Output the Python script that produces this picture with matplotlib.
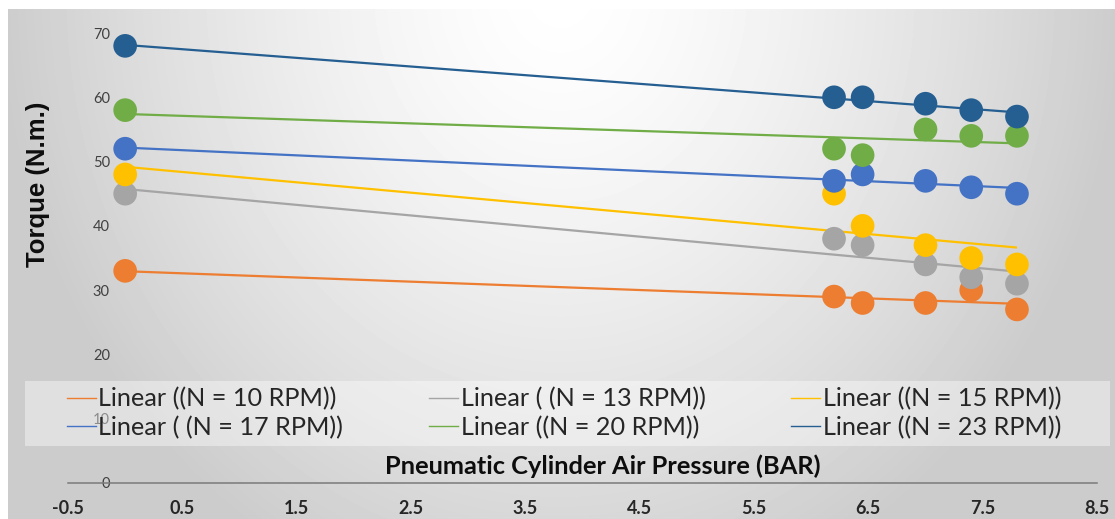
import numpy as np
import matplotlib
matplotlib.use("Agg")
import matplotlib.pyplot as plt
from matplotlib.patches import Rectangle
from matplotlib.lines import Line2D

# ---------------- data ----------------
pressure = [0, 6.2, 6.45, 7.0, 7.4, 7.8]
torque_10 = [33, 29, 28, 28, 30, 27]
torque_13 = [45, 38, 37, 34, 32, 31]
torque_15 = [48, 45, 40, 37, 35, 34]
torque_17 = [52, 47, 48, 47, 46, 45]
torque_20 = [58, 52, 51, 55, 54, 54]
torque_23 = [68, 60, 60, 59, 58, 57]
series_labels = ["Linear ((N = 10 RPM))", "Linear ( (N = 13 RPM))",
                 "Linear ((N = 15 RPM))", "Linear ( (N = 17 RPM))",
                 "Linear ((N = 20 RPM))", "Linear ((N = 23 RPM))"]
x_ticks = [-0.5, 0.5, 1.5, 2.5, 3.5, 4.5, 5.5, 6.5, 7.5, 8.5]
x_ticklabels = ["-0.5", "0.5", "1.5", "2.5", "3.5", "4.5", "5.5", "6.5", "7.5", "8.5"]
y_ticks = [0, 10, 20, 30, 40, 50, 60, 70]
x_title = "Pneumatic Cylinder Air Pressure (BAR)"
y_title = "Torque (N.m.)"

series = [torque_10, torque_13, torque_15, torque_17, torque_20, torque_23]
colors = ["#ED7D31", "#A5A5A5", "#FFC000", "#4472C4", "#70AD47", "#255E91"]

W, H = 1115, 519
fig = plt.figure(figsize=(W / 100, H / 100), dpi=100)
fig.patch.set_facecolor("white")

# background gradient (chart area)
bw, bh = 1107, 510
xx, yy = np.meshgrid(np.arange(bw), np.arange(bh))
r = np.sqrt(((xx - 552) / 560.0) ** 2 + ((yy + 20) / 640.0) ** 2)
grad = 1 - 0.20 * np.clip(r, 0, 1) ** 1.4
bg = fig.add_axes([8 / W, 0, bw / W, bh / H], zorder=-1)
bg.imshow(grad, cmap="gray", vmin=0, vmax=1, aspect="auto", interpolation="bilinear")
bg.axis("off")

ax = fig.add_axes([68 / W, 36 / H, (1097 - 68) / W, (483 - 33) / H])
ax.set_facecolor("none")
ax.set_xlim(-0.5, 8.5)
ax.set_ylim(0, 70)

x = np.array(pressure, dtype=float)
handles = []
for ys, c, lab in zip(series, colors, series_labels):
    ys = np.array(ys, dtype=float)
    k, b = np.polyfit(x, ys, 1)
    xf = np.array([x.min(), x.max()])
    ax.plot(xf, k * xf + b, color=c, lw=1.6, zorder=2, solid_capstyle="butt")
    handles.append(Line2D([], [], color=c, lw=1.0))

for ys, c in zip(series, colors):
    ax.scatter(pressure, ys, s=290, color=c, zorder=3, edgecolors="none", clip_on=False)

# axes styling
for s in ["top", "right", "left"]:
    ax.spines[s].set_visible(False)
ax.spines["left"].set_position(("data", 0))
ax.spines["bottom"].set_color("#7a7a7a")
ax.spines["bottom"].set_linewidth(1.1)
ax.set_xticks(x_ticks)
ax.set_xticklabels(x_ticklabels, fontfamily="Lato", fontweight="bold", fontsize=13, color="#262626")
ax.set_yticks(y_ticks)
ax.set_yticklabels([str(v) for v in y_ticks], fontfamily="Lato", fontsize=10.5, color="#404040")
ax.tick_params(axis="x", length=0, pad=12)
ax.tick_params(axis="y", length=0, pad=11)

# titles
fig.text(603 / W, 1 - 466 / H, x_title, ha="center", va="center", fontfamily="Lato",
         fontweight="bold", fontsize=18.3, color="#0d0d0d")
fig.text(38 / W, 1 - 184 / H, y_title, ha="center", va="center", rotation=90,
         fontfamily="Liberation Sans", fontweight="bold", fontsize=18.5, color="#0d0d0d")

# legend backdrop
rect = Rectangle((25 / W, 1 - 446 / H), (1110 - 25) / W, 65 / H, transform=fig.transFigure,
                 facecolor="white", alpha=0.4, edgecolor="none", zorder=5)
fig.add_artist(rect)

order = [0, 3, 1, 4, 2, 5]
leg = fig.legend([handles[i] for i in order], [series_labels[i] for i in order],
                 ncol=3, loc="center", bbox_to_anchor=(564 / W, 1 - 413 / H),
                 frameon=False, prop={"family": "Lato", "size": 18.2},
                 handlelength=1.15, handletextpad=0.1, columnspacing=3.4,
                 labelspacing=0.2, borderpad=0.0, labelcolor="#262626")
leg.set_zorder(6)

fig.savefig("out.png", dpi=100)
